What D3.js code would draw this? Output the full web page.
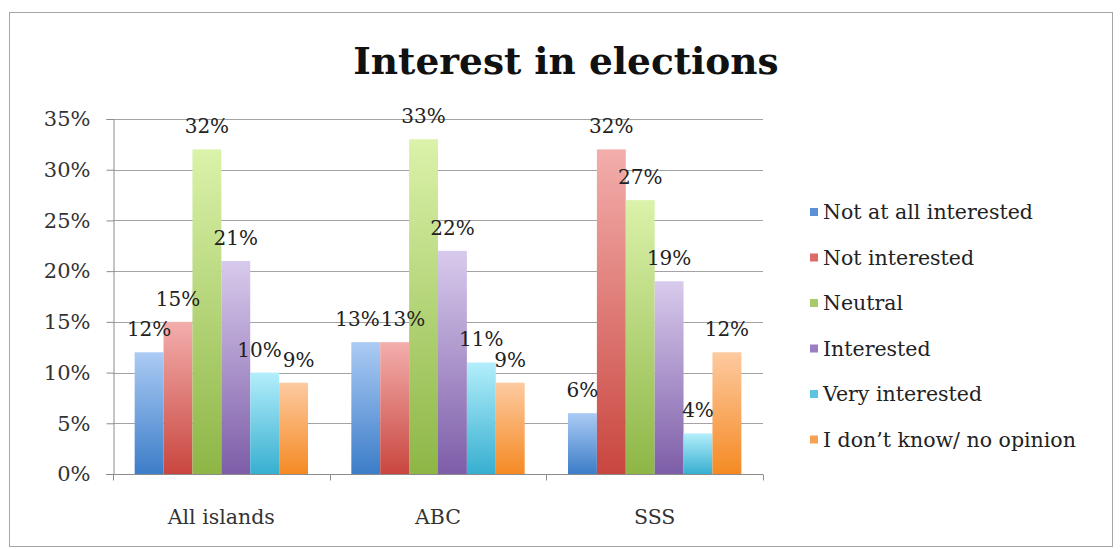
<!DOCTYPE html>
<html>
<head>
<meta charset="utf-8">
<script src="https://cdn.jsdelivr.net/npm/d3@7"></script>
<style>
  body { margin: 0; background: #fff; }
  svg text { font-family: "DejaVu Serif", serif; }
</style>
</head>
<body>
<div id="chart"></div>
<script>
// Chart data
const categories = ['All islands', 'ABC', 'SSS'];
const seriesNames = [
  'Not at all interested',
  'Not interested',
  'Neutral',
  'Interested',
  'Very interested',
  'I don\u2019t know/ no opinion'
];
const notAtAll = [12, 13, 6];
const notInterested = [15, 13, 32];
const neutral = [32, 33, 27];
const interested = [21, 22, 19];
const veryInterested = [10, 11, 4];
const dontKnow = [9, 9, 12];
const yTicks = [0, 5, 10, 15, 20, 25, 30, 35];

// Bar gradients: top (light) / bottom (dark) and legend swatch
const colors = [
  { top: '#abcbf4', bottom: '#3c7dc8', key: '#5b8fd6' },
  { top: '#f3aeac', bottom: '#c9463f', key: '#dc6a66' },
  { top: '#dbf2aa', bottom: '#8db646', key: '#a6ca6c' },
  { top: '#d8caec', bottom: '#7d5da8', key: '#9a80c0' },
  { top: '#b3eefb', bottom: '#37afd0', key: '#5ac4df' },
  { top: '#fdcaa0', bottom: '#f58a24', key: '#f7a155' }
];

const values = [notAtAll, notInterested, neutral, interested, veryInterested, dontKnow];

const width = 1120;
const height = 549;
const margin = { top: 119, left: 113, right: 357, bottom: 75 };

const svg = d3.select('#chart').append('svg')
  .attr('width', width)
  .attr('height', height);

const defs = svg.append('defs');
colors.forEach(function (c, i) {
  const g = defs.append('linearGradient')
    .attr('id', 'grad' + i)
    .attr('x1', 0).attr('y1', 0)
    .attr('x2', 0).attr('y2', 1);
  g.append('stop').attr('offset', '0%').attr('stop-color', c.top);
  g.append('stop').attr('offset', '100%').attr('stop-color', c.bottom);
});

// Outer chart border
svg.append('rect')
  .attr('x', 9.5)
  .attr('y', 12.5)
  .attr('width', 1103)
  .attr('height', 534)
  .attr('fill', '#fff')
  .attr('stroke', '#a6a6a6');

// Title
svg.append('text')
  .attr('x', 566)
  .attr('y', 74)
  .attr('text-anchor', 'middle')
  .attr('font-size', 37.5)
  .attr('font-weight', 'bold')
  .attr('fill', '#111')
  .text('Interest in elections');

const x0 = d3.scaleBand()
  .domain(categories)
  .range([margin.left, width - margin.right])
  .paddingInner(0)
  .paddingOuter(0);

// gap width 150% => bars take 6/7.5 of a category
const x1 = d3.scaleBand()
  .domain(d3.range(seriesNames.length))
  .range([0, x0.bandwidth()])
  .paddingInner(0)
  .paddingOuter(0.75);

const y = d3.scaleLinear()
  .domain([0, 35])
  .range([height - margin.bottom, margin.top]);

// Gridlines
svg.append('g')
  .selectAll('line')
  .data(yTicks.slice(1))
  .join('line')
  .attr('x1', margin.left)
  .attr('x2', width - margin.right)
  .attr('y1', function (d) { return Math.round(y(d)) + 0.5; })
  .attr('y2', function (d) { return Math.round(y(d)) + 0.5; })
  .attr('stroke', '#a3a3a3')
  .attr('stroke-width', 1.2);

// Y axis
const yAxis = svg.append('g')
  .attr('transform', 'translate(' + (margin.left + 0.5) + ',0)')
  .call(d3.axisLeft(y).tickValues(yTicks).tickSize(7).tickPadding(16)
    .tickFormat(function (d) { return d + '%'; }));
yAxis.select('.domain').attr('stroke', '#8c8c8c');
yAxis.selectAll('.tick line').attr('stroke', '#8c8c8c');
yAxis.selectAll('.tick text')
  .attr('font-family', '"DejaVu Serif", serif')
  .attr('font-size', 21)
  .attr('fill', '#333');

// X axis
const xAxisY = Math.round(y(0)) + 0.5;
svg.append('line')
  .attr('x1', margin.left - 7)
  .attr('x2', width - margin.right)
  .attr('y1', xAxisY)
  .attr('y2', xAxisY)
  .attr('stroke', '#8c8c8c');

const boundaries = categories.map(function (c) { return x0(c); })
  .concat([x0(categories[categories.length - 1]) + x0.bandwidth()]);
svg.append('g')
  .selectAll('line')
  .data(boundaries)
  .join('line')
  .attr('x1', function (d) { return Math.round(d) + 0.5; })
  .attr('x2', function (d) { return Math.round(d) + 0.5; })
  .attr('y1', xAxisY)
  .attr('y2', xAxisY + 6)
  .attr('stroke', '#8c8c8c');

svg.append('g')
  .selectAll('text')
  .data(categories)
  .join('text')
  .attr('x', function (d) { return x0(d) + x0.bandwidth() / 2; })
  .attr('y', 524)
  .attr('text-anchor', 'middle')
  .attr('font-size', 20.5)
  .attr('fill', '#333')
  .text(function (d) { return d; });

// Bars
const groups = svg.append('g')
  .selectAll('g')
  .data(categories)
  .join('g')
  .attr('transform', function (d) { return 'translate(' + x0(d) + ',0)'; });

groups.selectAll('rect')
  .data(function (d, ci) {
    return values.map(function (s, si) { return { si: si, v: s[ci] }; });
  })
  .join('rect')
  .attr('x', function (d) { return x1(d.si); })
  .attr('width', x1.bandwidth())
  .attr('y', function (d) { return y(d.v); })
  .attr('height', function (d) { return y(0) - y(d.v); })
  .attr('fill', function (d) { return 'url(#grad' + d.si + ')'; });

// Data labels, centered above each bar
const labels = groups.selectAll('text')
  .data(function (d, ci) {
    return values.map(function (s, si) { return { si: si, v: s[ci] }; });
  })
  .join('text')
  .attr('x', function (d) { return x1(d.si) + x1.bandwidth() / 2; })
  .attr('y', function (d) { return y(d.v) - 16; })
  .attr('text-anchor', 'middle')
  .attr('font-size', 20)
  .attr('fill', '#222')
  .text(function (d) { return d.v + '%'; });

// Nudge neighbouring labels apart when they collide (like Excel does)
groups.each(function () {
  const nodes = d3.select(this).selectAll('text').nodes();
  const info = nodes.map(function (n) {
    return {
      node: n,
      x: +n.getAttribute('x'),
      y: +n.getAttribute('y'),
      w: n.getComputedTextLength()
    };
  });
  for (let i = 0; i < info.length - 1; i++) {
    const a = info[i];
    const b = info[i + 1];
    if (Math.abs(a.y - b.y) > 17) continue;
    const overlap = (a.x + a.w / 2) - (b.x - b.w / 2) + 1;
    if (overlap > 0) {
      a.x -= overlap / 2;
      b.x += overlap / 2;
      d3.select(a.node).attr('x', a.x);
      d3.select(b.node).attr('x', b.x);
    }
  }
});

// Legend
const legend = svg.append('g')
  .attr('transform', 'translate(810,212)');

const items = legend.selectAll('g')
  .data(seriesNames)
  .join('g')
  .attr('transform', function (d, i) { return 'translate(0,' + (i * 45.5) + ')'; });

items.append('rect')
  .attr('x', 0)
  .attr('y', -4)
  .attr('width', 8)
  .attr('height', 8)
  .attr('fill', function (d, i) { return colors[i].key; });

items.append('text')
  .attr('x', 13)
  .attr('y', 7)
  .attr('font-size', 20.5)
  .attr('fill', '#222')
  .text(function (d) { return d; });
</script>
</body>
</html>
